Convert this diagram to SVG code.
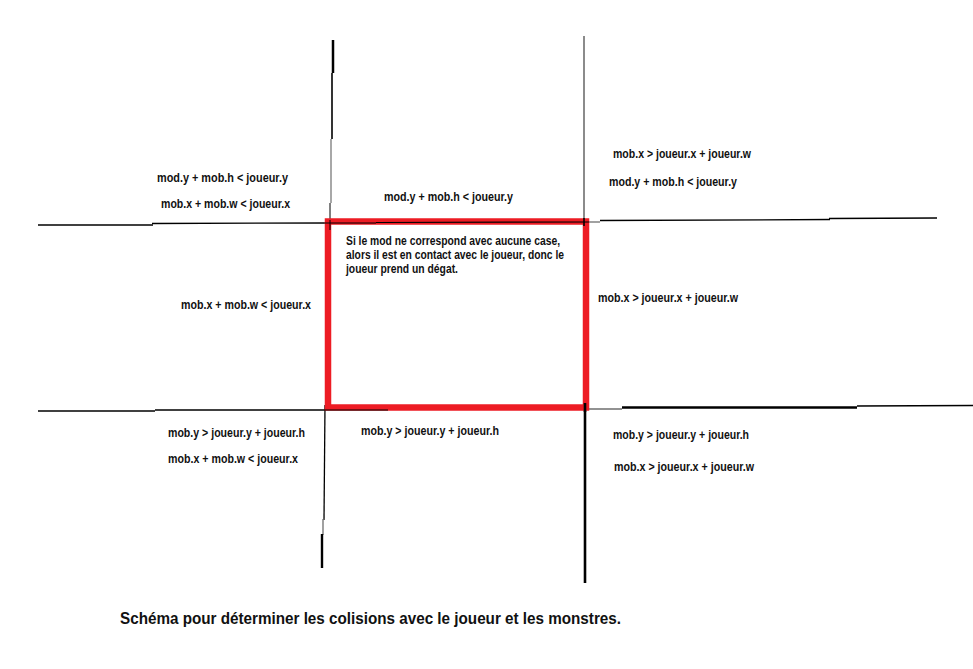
<svg xmlns="http://www.w3.org/2000/svg" width="973" height="669" viewBox="0 0 973 669">
<style>
.t{font-family:"Liberation Sans",Arial,sans-serif;font-weight:bold;font-size:12px;fill:#111}
.ttl{font-family:"Liberation Sans",Arial,sans-serif;font-weight:bold;font-size:16px;fill:#111}
.k{stroke:#000;fill:none}
.g{stroke:#6e6e6e;fill:none}
</style>
<rect width="973" height="669" fill="#fff"/>
<g id="connectors">
<line class="k" x1="333" y1="40" x2="333" y2="73" stroke-width="2.5"/>
<line class="k" x1="332" y1="73" x2="332" y2="139" stroke-width="1.6"/>
<line class="g" x1="331" y1="139" x2="331" y2="203" stroke-width="1.2"/>
<line class="k" x1="330" y1="203" x2="330" y2="226" stroke-width="1"/>
<line class="k" x1="325" y1="405" x2="324" y2="520" stroke-width="1.3"/>
<line class="g" x1="323" y1="519" x2="323" y2="535" stroke-width="1.3"/>
<line class="k" x1="322" y1="534" x2="322" y2="568" stroke-width="2.4"/>
<line class="g" x1="584" y1="36" x2="584" y2="220" stroke-width="1.6"/>
<line class="k" x1="585" y1="405" x2="585" y2="583" stroke-width="2.6"/>
<line class="k" x1="38" y1="225" x2="153" y2="225" stroke-width="1.3"/>
<line class="k" x1="152" y1="223.5" x2="330" y2="223" stroke-width="1.3"/>
<line class="g" x1="589" y1="222" x2="600" y2="222" stroke-width="1.3"/>
<line class="k" x1="600" y1="220.5" x2="830" y2="219.5" stroke-width="1.3"/>
<line class="k" x1="829" y1="218.5" x2="937" y2="218" stroke-width="1.3"/>
<line class="k" x1="38" y1="411" x2="155" y2="411" stroke-width="1.3"/>
<line class="k" x1="155" y1="410" x2="325" y2="410" stroke-width="1.3"/>
<line class="g" x1="589" y1="409" x2="622" y2="409" stroke-width="1.3"/>
<line class="k" x1="622" y1="407.5" x2="857" y2="407.5" stroke-width="2.4"/>
<line class="k" x1="857" y1="406" x2="973" y2="405.5" stroke-width="1.3"/>
</g>
<g id="player">
<rect x="328" y="221.5" width="258" height="186" fill="none" stroke="#ed1c24" stroke-width="6.5"/>
<line class="k" x1="325" y1="223" x2="376" y2="223" stroke-width="1.2"/>
<line class="k" x1="376" y1="222.5" x2="589" y2="222" stroke-width="1.2"/>
<line class="k" x1="325" y1="410" x2="388" y2="410" stroke-width="1.2"/>
<line class="k" x1="330" y1="220" x2="330" y2="230" stroke-width="1"/>
<line class="k" x1="584" y1="218" x2="584" y2="226" stroke-width="1.6"/>
<line class="k" x1="585" y1="403" x2="585" y2="412" stroke-width="2.6"/>
<text class="t" x="346" y="245" textLength="214" lengthAdjust="spacingAndGlyphs">Si le mod ne correspond avec aucune case,</text>
<text class="t" x="346" y="259" textLength="218" lengthAdjust="spacingAndGlyphs">alors il est en contact avec le joueur, donc le</text>
<text class="t" x="346" y="273" textLength="112" lengthAdjust="spacingAndGlyphs">joueur prend un dégat.</text>
</g>
<g id="top-left">
<text class="t" x="157" y="182" textLength="131" lengthAdjust="spacingAndGlyphs">mod.y + mob.h &lt; joueur.y</text>
<text class="t" x="161" y="208" textLength="129" lengthAdjust="spacingAndGlyphs">mob.x + mob.w &lt; joueur.x</text>
</g>
<g id="top">
<text class="t" x="384" y="201" textLength="129" lengthAdjust="spacingAndGlyphs">mod.y + mob.h &lt; joueur.y</text>
</g>
<g id="top-right">
<text class="t" x="613" y="158" textLength="138" lengthAdjust="spacingAndGlyphs">mob.x &gt; joueur.x + joueur.w</text>
<text class="t" x="609" y="186" textLength="128" lengthAdjust="spacingAndGlyphs">mod.y + mob.h &lt; joueur.y</text>
</g>
<g id="left">
<text class="t" x="181" y="309" textLength="130" lengthAdjust="spacingAndGlyphs">mob.x + mob.w &lt; joueur.x</text>
</g>
<g id="right">
<text class="t" x="598" y="302" textLength="140" lengthAdjust="spacingAndGlyphs">mob.x &gt; joueur.x + joueur.w</text>
</g>
<g id="bottom-left">
<text class="t" x="168" y="437" textLength="137" lengthAdjust="spacingAndGlyphs">mob.y &gt; joueur.y + joueur.h</text>
<text class="t" x="168" y="463" textLength="130" lengthAdjust="spacingAndGlyphs">mob.x + mob.w &lt; joueur.x</text>
</g>
<g id="bottom">
<text class="t" x="361" y="435" textLength="138" lengthAdjust="spacingAndGlyphs">mob.y &gt; joueur.y + joueur.h</text>
</g>
<g id="bottom-right">
<text class="t" x="613" y="439" textLength="136" lengthAdjust="spacingAndGlyphs">mob.y &gt; joueur.y + joueur.h</text>
<text class="t" x="614" y="471" textLength="140" lengthAdjust="spacingAndGlyphs">mob.x &gt; joueur.x + joueur.w</text>
</g>
<g id="title">
<text class="ttl" x="120" y="624" textLength="501" lengthAdjust="spacingAndGlyphs">Schéma pour déterminer les colisions avec le joueur et les monstres.</text>
</g>
</svg>
